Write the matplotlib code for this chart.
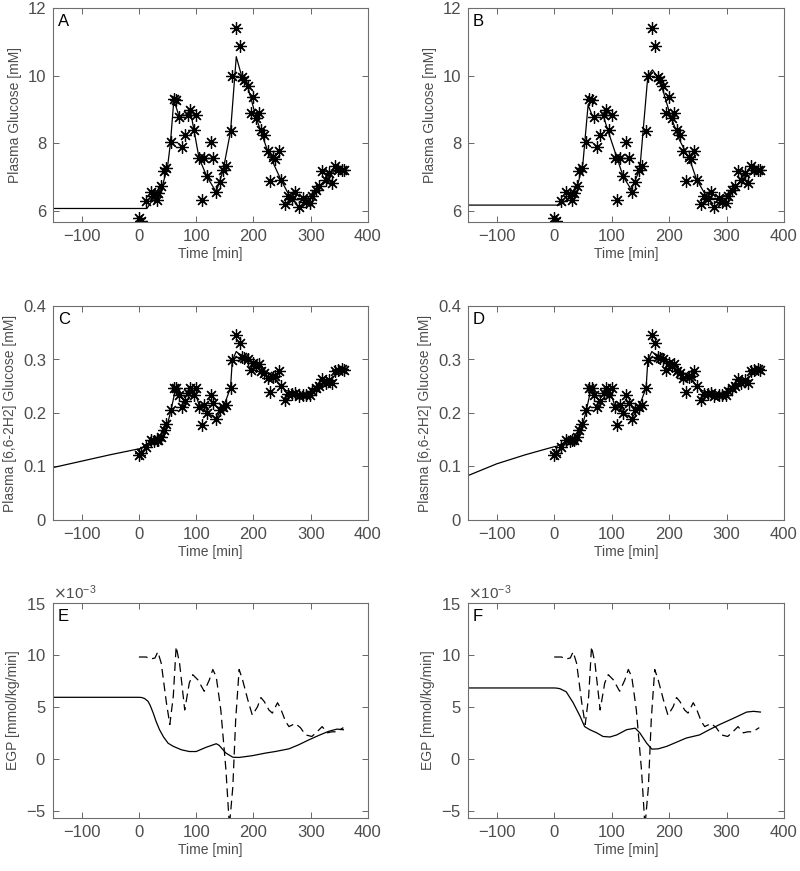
import numpy as np
import matplotlib
matplotlib.use("Agg")
import matplotlib.pyplot as plt
from matplotlib.ticker import ScalarFormatter, FormatStrFormatter

plt.rcParams['font.family'] = ['Liberation Sans', 'DejaVu Sans']

# ---------------- data: measurements (shared by A/B and C/D) ----------------
t_obs = [0, 4, 12, 21, 27, 31, 34, 39, 44, 48, 56, 61, 65, 70, 75, 80, 86, 90, 96, 100,
         105, 110, 114, 119, 125, 130, 135, 141, 147, 152, 160, 163, 170, 176, 180, 184,
         190, 195, 200, 205, 209, 213, 219, 225, 229, 234, 238, 244, 248, 255, 261, 267,
         273, 279, 286, 292, 299, 303, 309, 315, 320, 326, 332, 338, 343, 348, 354, 358]
glc_obs = [5.79, 5.70, 6.28, 6.55, 6.43, 6.33, 6.53, 6.73, 7.17, 7.27, 8.05, 9.31, 9.28, 8.79,
           7.90, 8.23, 8.84, 8.99, 8.40, 8.84, 7.56, 6.33, 7.56, 7.02, 8.05, 7.56, 6.56, 6.85,
           7.20, 7.34, 8.35, 9.99, 11.42, 10.87, 9.95, 9.87, 9.68, 8.89, 9.38, 8.74, 8.89, 8.40,
           8.23, 7.76, 6.89, 7.58, 7.54, 7.76, 6.92, 6.19, 6.43, 6.36, 6.55, 6.12, 6.38, 6.26,
           6.24, 6.43, 6.63, 6.73, 7.17, 6.92, 7.12, 6.83, 7.34, 7.22, 7.20, 7.22]
lab_obs = [0.122, 0.126, 0.137, 0.149, 0.147, 0.150, 0.150, 0.155, 0.169, 0.180, 0.206, 0.247,
           0.246, 0.234, 0.212, 0.222, 0.237, 0.247, 0.234, 0.247, 0.212, 0.178, 0.215, 0.200,
           0.233, 0.219, 0.189, 0.206, 0.212, 0.215, 0.247, 0.299, 0.345, 0.330, 0.305, 0.303,
           0.300, 0.281, 0.294, 0.287, 0.291, 0.278, 0.274, 0.266, 0.239, 0.268, 0.270, 0.278,
           0.250, 0.225, 0.236, 0.236, 0.237, 0.231, 0.233, 0.234, 0.234, 0.241, 0.247, 0.250,
           0.264, 0.256, 0.262, 0.257, 0.278, 0.280, 0.282, 0.281]

# ---------------- model fits: plasma glucose ----------------
t_fitA = [-150, 14, 25, 35, 42, 50, 55, 61, 70, 86, 90, 96, 105, 119, 135, 147, 160, 170,
          180, 190, 205, 225, 248, 261, 274, 292, 309, 326, 343, 358]
glc_fitA = [6.07, 6.07, 6.35, 6.55, 6.80, 7.30, 8.00, 9.28, 8.80, 8.84, 8.95, 8.40, 7.56, 7.00,
            6.56, 7.20, 8.35, 10.56, 9.95, 9.68, 8.74, 7.76, 6.92, 6.50, 6.33, 6.33, 6.63,
            6.92, 7.20, 7.22]
t_fitB = [-150, 9, 20, 30, 40, 50, 59, 67, 85, 93, 120, 134, 149, 163, 171, 184, 201, 218,
          236, 248, 265, 283, 300, 317, 335, 358]
glc_fitB = [6.17, 6.17, 6.30, 6.45, 6.70, 7.40, 9.13, 8.79, 8.84, 8.40, 7.02, 6.63, 7.22, 9.99,
            10.17, 9.87, 8.89, 8.10, 7.51, 6.92, 6.43, 6.33, 6.48, 6.73, 7.02, 7.22]

# ---------------- model fits: labelled glucose ----------------
t_fitC = [-150, -100, -50, 0, 5, 10, 20, 30, 40, 50, 56, 63, 70, 85, 93, 100, 105, 115, 120,
          135, 147, 160, 163, 170, 180, 195, 210, 230, 245, 255, 270, 290, 310, 330, 345, 360]
lab_fitC = [0.098, 0.110, 0.122, 0.133, 0.134, 0.140, 0.145, 0.148, 0.155, 0.180, 0.205, 0.240,
            0.232, 0.232, 0.240, 0.232, 0.215, 0.215, 0.200, 0.190, 0.210, 0.247, 0.298, 0.315,
            0.305, 0.298, 0.287, 0.270, 0.255, 0.243, 0.237, 0.235, 0.245, 0.260, 0.272, 0.280]
t_fitD = t_fitC
lab_fitD = [0.083, 0.105, 0.122, 0.137, 0.138, 0.141, 0.145, 0.148, 0.155, 0.180, 0.205, 0.240,
            0.232, 0.232, 0.240, 0.232, 0.215, 0.215, 0.200, 0.190, 0.210, 0.247, 0.298, 0.315,
            0.305, 0.298, 0.287, 0.270, 0.255, 0.243, 0.237, 0.235, 0.245, 0.260, 0.272, 0.280]

# ---------------- EGP (x 1e-3 mmol/kg/min) ----------------
t_egpE = [-150, 0, 5, 10, 16, 20, 25, 30, 36, 43, 51, 60, 74, 88, 100, 117, 135, 140, 152,
          164, 175, 198, 221, 238, 262, 279, 297, 314, 331, 346, 357]
egp_E = [5.92, 5.92, 5.90, 5.80, 5.53, 5.10, 4.40, 3.60, 2.80, 2.10, 1.50, 1.20, 0.87, 0.70,
         0.70, 1.10, 1.45, 1.30, 0.55, 0.15, 0.13, 0.30, 0.55, 0.70, 0.96, 1.35, 1.83, 2.25,
         2.64, 2.86, 2.80]
t_egpF = [-150, 0, 5, 10, 21, 33, 45, 53, 62, 74, 85, 97, 109, 126, 141, 149, 161, 170, 181,
          196, 213, 230, 253, 270, 288, 312, 335, 347, 359]
egp_F = [6.82, 6.82, 6.80, 6.75, 6.45, 5.40, 4.10, 3.10, 2.80, 2.50, 2.15, 2.10, 2.30, 2.80,
         2.95, 2.50, 1.50, 0.93, 0.96, 1.20, 1.60, 2.00, 2.30, 2.80, 3.30, 3.90, 4.50, 4.57, 4.50]
t_egp_tracer = [0, 13, 19, 28, 33, 39, 48, 54, 60, 65, 71, 80, 88, 94, 103, 109, 114, 123, 129,
                135, 143, 152, 158, 164, 169, 175, 181, 190, 198, 207, 213, 219, 227, 233, 242,
                247, 256, 262, 273, 282, 291, 302, 311, 320, 329, 337, 346, 354, 357]
egp_tracer = [9.8, 9.8, 9.6, 9.7, 10.3, 9.2, 5.4, 3.3, 6.0, 10.8, 9.2, 4.7, 7.3, 8.1, 7.6, 7.0,
              6.5, 7.6, 8.6, 7.9, 4.7, -1.1, -6.5, -2.7, 3.8, 8.6, 7.6, 5.7, 4.2, 5.0, 5.9, 5.5,
              4.7, 4.4, 5.4, 4.9, 3.6, 3.1, 3.4, 3.0, 2.3, 2.15, 2.6, 3.1, 2.5, 2.6, 2.6, 2.9, 3.0]

letters = ['A', 'B', 'C', 'D', 'E', 'F']
xlabel = 'Time [min]'
ylabels = ['Plasma Glucose [mM]', 'Plasma [6,6-2H2] Glucose [mM]', 'EGP [mmol/kg/min]']

# ---------------- figure ----------------
fig = plt.figure(figsize=(8.0, 8.71), dpi=100)
W, H = 800, 871
cols = [(53, 368), (468, 784)]
rows = [(8, 222), (306, 520), (603, 818)]
tick_col = '#4d4d4d'
spine_col = '#6e6e6e'

axes = []
for r, (top, bot) in enumerate(rows):
    for c, (lft, rgt) in enumerate(cols):
        ax = fig.add_axes([lft / W, 1 - bot / H, (rgt - lft) / W, (bot - top) / H])
        axes.append(ax)

star = dict(marker=(8, 2, 0), markersize=9, markeredgewidth=0.9, color='black',
            linestyle='none')

# A, B
for ax, tf, gf in [(axes[0], t_fitA, glc_fitA), (axes[1], t_fitB, glc_fitB)]:
    ax.plot(t_obs, glc_obs, **star)
    ax.plot(tf, gf, color='black', lw=0.9)
    ax.set_ylim(5.67, 12)
    ax.set_yticks([6, 8, 10, 12])

# C, D
for ax, tf, lf in [(axes[2], t_fitC, lab_fitC), (axes[3], t_fitD, lab_fitD)]:
    ax.plot(t_obs, lab_obs, **star)
    ax.plot(tf, lf, color='black', lw=0.9)
    ax.set_ylim(0, 0.4)
    ax.set_yticks([0, 0.1, 0.2, 0.3, 0.4])
    ax.yaxis.set_major_formatter(FormatStrFormatter('%g'))

# E, F
for ax, te, ee in [(axes[4], t_egpE, egp_E), (axes[5], t_egpF, egp_F)]:
    ax.plot(te, np.array(ee) * 1e-3, color='black', lw=0.9)
    ax.plot(t_egp_tracer, np.array(egp_tracer) * 1e-3, color='black', lw=0.9,
            dashes=(7, 4))
    ax.set_ylim(-5.7e-3, 15e-3)
    ax.set_yticks([-5e-3, 0, 5e-3, 10e-3, 15e-3])
    fmt = ScalarFormatter(useMathText=True)
    fmt.set_powerlimits((-3, -3))
    ax.yaxis.set_major_formatter(fmt)
    ax.yaxis.get_offset_text().set_fontsize(11)
    ax.yaxis.get_offset_text().set_color(tick_col)

for i, ax in enumerate(axes):
    ax.set_xlim(-150, 400)
    ax.set_xticks([-100, 0, 100, 200, 300, 400])
    ax.tick_params(direction='in', top=True, right=True, labelsize=12,
                   colors=tick_col, length=4, width=0.6, pad=5)
    for s in ax.spines.values():
        s.set_color(spine_col)
        s.set_linewidth(0.8)
    ax.set_xlabel(xlabel, fontsize=10, color=tick_col, labelpad=2)
    ax.set_ylabel(ylabels[i // 2], fontsize=10, color=tick_col, labelpad=4)
    ax.text(0.015, 0.97, letters[i], transform=ax.transAxes, ha='left', va='top',
            fontsize=12, color='black')

fig.savefig('out.png', dpi=100)
